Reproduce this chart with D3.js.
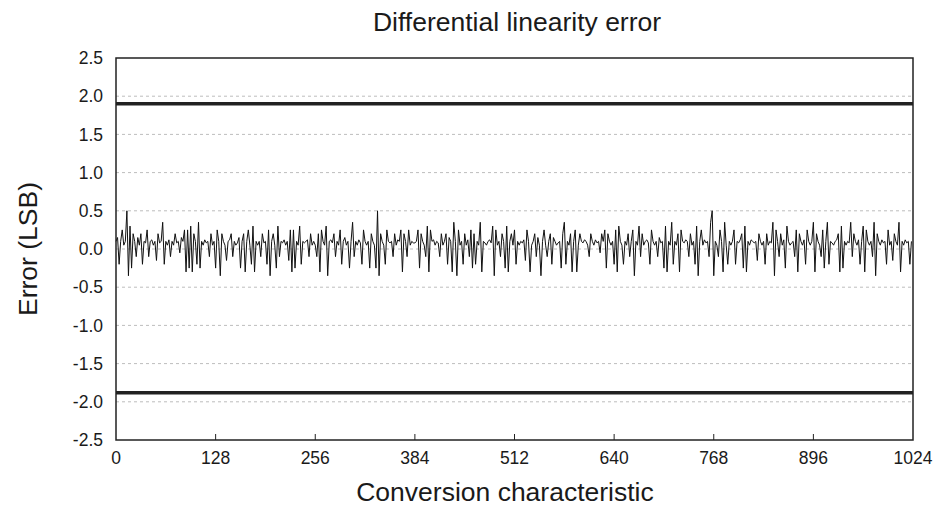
<!DOCTYPE html>
<html><head><meta charset="utf-8">
<script src="https://cdn.jsdelivr.net/npm/d3@7"></script>
<style>
html,body{margin:0;padding:0;background:#fff;}
text{font-family:"Liberation Sans",Arial,sans-serif;fill:#1a1a1a;}
</style></head>
<body><svg id="c" width="935" height="508"></svg>
<script>
const title = "Differential linearity error";
const xTitle = "Conversion characteristic";
const yTitle = "Error (LSB)";
const xTicks = [0,128,256,384,512,640,768,896,1024];
const yTicks = [-2.5,-2.0,-1.5,-1.0,-0.5,0.0,0.5,1.0,1.5,2.0,2.5];
const limitUpper = 1.9;
const limitLower = -1.88;
const codeStep = 2;
const dnl = [
0.1,0.15,-0.2,0.1,0.25,0.05,0.1,0.5,-0.35,0.3,-0.25,0.2,0.1,-0.1,0.15,0.05,0.2,-0.2,0.1,0.08,0.25,-0.1,0.1,0.12,0.05,0.1,-0.15,0.2,0.08,0.1,0.35,-0.2,
0.1,0.05,0.12,-0.1,0.1,0.05,0.2,0.08,0.1,-0.05,0.15,0.1,0.25,-0.3,0.25,-0.25,0.3,-0.3,0.2,0.1,-0.2,0.35,-0.25,0.1,0.05,0.12,0.08,0.1,-0.1,0.2,0.05,0.1,
-0.25,0.25,0.1,-0.35,0.2,0.1,0.05,-0.15,0.1,0.12,0.2,-0.1,0.1,0.05,0.08,0.15,-0.25,0.1,0.2,-0.3,0.1,0.25,0.05,-0.2,0.3,-0.3,0.1,0.05,0.1,-0.1,0.2,0.08,
0.1,-0.2,0.25,-0.35,0.1,0.2,0.05,-0.25,0.3,-0.1,0.1,0.08,0.12,0.05,0.1,-0.15,0.25,-0.3,0.25,-0.25,0.1,0.05,0.3,-0.2,0.1,0.08,0.1,0.12,-0.1,0.2,0.05,0.1,
0.05,-0.1,0.2,-0.3,0.25,0.1,0.05,0.3,-0.35,0.1,0.12,0.08,0.2,-0.1,0.1,0.05,0.25,-0.2,0.1,0.15,0.05,0.1,-0.25,0.1,0.35,-0.1,0.1,0.05,0.12,0.08,-0.2,0.25,
0.1,0.05,0.1,-0.25,0.2,0.1,0.05,-0.25,0.5,-0.35,0.2,0.1,0.05,-0.2,0.25,0.1,0.08,0.1,-0.1,0.2,0.05,0.12,0.1,0.25,-0.3,0.2,0.1,-0.1,0.25,0.05,0.1,0.08,
0.08,0.1,0.25,-0.25,0.2,0.1,0.05,-0.1,0.3,-0.3,0.25,0.1,0.12,0.05,0.1,0.08,-0.1,0.2,0.05,0.1,0.2,-0.2,0.15,0.1,-0.3,0.35,0.1,-0.35,0.25,0.05,0.1,-0.2,
0.2,0.05,0.12,-0.1,0.25,-0.25,0.2,-0.2,0.1,0.05,0.35,-0.3,0.1,0.08,0.05,0.1,0.12,0.08,0.3,-0.35,0.25,0.05,0.1,-0.1,0.2,0.1,-0.25,0.3,-0.3,0.1,0.2,0.05,
0.25,-0.2,0.1,0.05,0.1,0.08,0.12,-0.15,0.25,0.1,-0.3,0.05,0.1,0.2,-0.1,0.15,0.05,-0.35,0.1,0.25,0.05,-0.1,0.1,0.2,-0.2,0.15,0.1,0.05,0.08,0.1,-0.25,0.2,
0.35,-0.2,0.1,0.05,0.2,-0.3,0.1,0.25,-0.3,0.05,0.2,0.1,0.08,0.12,0.1,0.05,-0.1,0.2,0.1,0.05,0.12,0.08,0.1,-0.05,0.2,0.1,0.25,-0.25,0.2,0.1,0.05,0.1,
-0.2,0.25,-0.3,0.3,0.1,0.05,-0.2,0.1,0.05,0.2,-0.1,0.1,0.25,-0.35,0.1,0.05,0.3,-0.1,0.2,0.05,0.1,0.12,0.08,-0.2,0.25,0.1,0.05,0.1,-0.1,0.15,0.08,0.1,
-0.25,0.3,-0.3,0.1,0.05,0.35,-0.2,0.1,0.05,0.2,-0.3,0.25,0.1,0.08,0.12,0.1,-0.1,0.2,0.05,0.1,-0.2,0.3,-0.35,0.1,0.25,0.05,0.12,0.08,0.1,-0.1,0.35,0.5,
-0.35,0.1,0.05,-0.1,0.25,0.1,-0.3,0.35,0.05,-0.2,0.1,0.05,0.1,0.25,-0.2,0.1,0.08,0.12,0.2,-0.25,0.3,-0.3,0.1,0.05,0.12,0.1,0.08,0.1,-0.15,0.2,0.1,0.05,
0.1,-0.2,0.2,0.05,0.1,0.08,0.35,-0.35,0.25,0.1,-0.1,0.2,0.05,0.12,-0.25,0.3,0.1,0.05,0.08,0.1,-0.1,0.25,-0.3,0.2,0.1,0.05,0.12,-0.2,0.25,0.1,0.05,0.1,
0.35,-0.3,0.2,0.1,0.05,-0.1,0.25,-0.25,0.1,0.35,-0.2,0.1,0.08,0.05,0.1,0.12,0.2,-0.3,0.3,-0.25,0.1,0.05,0.1,0.08,0.35,-0.1,0.2,0.1,0.05,0.12,-0.2,0.1,
0.3,-0.3,0.25,0.1,0.05,0.1,-0.1,0.35,-0.35,0.2,0.1,0.05,0.12,0.08,0.1,-0.2,0.25,0.05,0.1,-0.15,0.2,0.1,0.05,0.35,-0.3,0.1,0.05,0.12,0.08,0.1,-0.2,0.1
];

const svg = d3.select("#c");
const L = 116, R = 913, T = 58, B = 440;
const x = d3.scaleLinear().domain([0,1024]).range([L,R]);
const y = d3.scaleLinear().domain([-2.5,2.5]).range([B,T]);

// grid
svg.append("g").selectAll("line").data(yTicks.filter(v=>Math.abs(v)<2.5)).join("line")
  .attr("x1",L).attr("x2",R).attr("y1",d=>y(d)).attr("y2",d=>y(d))
  .attr("stroke","#bdbdbd").attr("stroke-width",1).attr("stroke-dasharray","3,3");

// y tick labels
svg.append("g").selectAll("text").data(yTicks).join("text")
  .attr("x",103).attr("y",d=>y(d)).attr("dy","0.35em").attr("text-anchor","end")
  .attr("font-size",17.5).text(d=>d.toFixed(1));

// x axis ticks (inward) and labels
svg.append("g").selectAll("line").data(xTicks.slice(1,-1)).join("line")
  .attr("x1",d=>x(d)).attr("x2",d=>x(d)).attr("y1",B).attr("y2",B-6)
  .attr("stroke","#222").attr("stroke-width",1);
svg.append("g").selectAll("text").data(xTicks).join("text")
  .attr("x",d=>x(d)).attr("y",458).attr("dy","0.35em").attr("text-anchor","middle")
  .attr("font-size",17.5).text(d=>d);

// data line
const line = d3.line().x((d,i)=>x(i*codeStep)).y(d=>y(d));
svg.append("path").datum(dnl).attr("d",line).attr("fill","none")
  .attr("stroke","#111").attr("stroke-width",1);

// limit lines
[limitUpper,limitLower].forEach(v=>{
  svg.append("line").attr("x1",L).attr("x2",R).attr("y1",y(v)).attr("y2",y(v))
    .attr("stroke","#222").attr("stroke-width",3.5);
});

// frame
svg.append("rect").attr("x",L).attr("y",T).attr("width",R-L).attr("height",B-T)
  .attr("fill","none").attr("stroke","#222").attr("stroke-width",1.5);

// titles
svg.append("text").attr("x",517).attr("y",22).attr("dy","0.35em").attr("text-anchor","middle")
  .attr("font-size",26.5).text(title);
svg.append("text").attr("x",505).attr("y",492).attr("dy","0.35em").attr("text-anchor","middle")
  .attr("font-size",26.5).text(xTitle);
svg.append("text").attr("transform","translate(28,249) rotate(-90)").attr("dy","0.35em")
  .attr("text-anchor","middle").attr("font-size",26.5).text(yTitle);
</script></body></html>
